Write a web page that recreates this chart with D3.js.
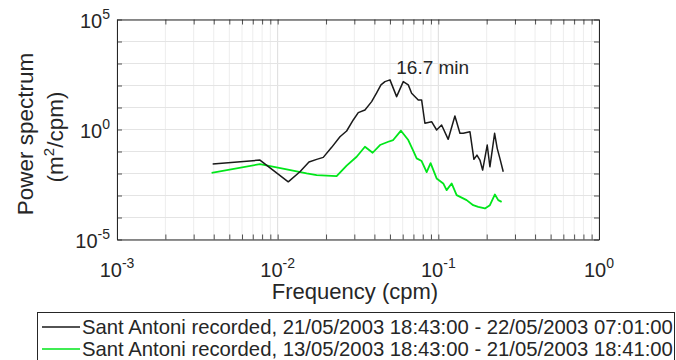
<!DOCTYPE html>
<html><head><meta charset="utf-8">
<script src="https://cdn.jsdelivr.net/npm/d3@7"></script>
<style>
html,body{margin:0;padding:0;background:#fff;}
text{font-family:"Liberation Sans",Arial,sans-serif;fill:#262626;}
</style></head>
<body>
<svg id="chart" width="676" height="360"></svg>
<script>
// ---- data ----
const blackFreq = [0.00394,0.00776,0.01164,0.01376,0.01566,0.01749,0.01922,0.02168,0.02442,0.02687,0.02954,0.03174,0.03493,0.03845,0.0413,0.04394,0.04654,0.0500,0.0550,0.0605,0.0650,0.0682,0.0750,0.0787,0.0825,0.0908,0.0976,0.1048,0.1152,0.1268,0.1363,0.1429,0.1573,0.1665,0.1739,0.1815,0.1887,0.2015,0.2094,0.2240,0.2325,0.2416,0.2535];
const blackPower = [0.0268,0.0408,0.00419,0.01195,0.0331,0.0439,0.0541,0.1545,0.470,0.855,2.71,5.83,7.73,18.5,46.0,106.5,150.6,180,31.2,150.6,106.5,44.6,22.1,22.1,1.92,2.27,0.949,1.60,0.358,4.12,0.671,0.671,0.794,0.0439,0.0689,0.0408,0.01428,0.197,0.0202,0.671,0.139,0.0488,0.01195];
const greenFreq = [0.00388,0.00776,0.01138,0.01515,0.01749,0.02328,0.02687,0.03102,0.03493,0.03900,0.04334,0.04878,0.05237,0.05853,0.0650,0.0695,0.0733,0.0787,0.0846,0.0895,0.0976,0.1073,0.1126,0.1210,0.1300,0.1500,0.1648,0.1771,0.1950,0.2094,0.2250,0.2360,0.2477];
const greenPower = [0.01076,0.0268,0.01538,0.0101,0.00846,0.00762,0.0229,0.0577,0.1646,0.0877,0.197,0.278,0.332,0.882,0.332,0.1165,0.0488,0.0367,0.01158,0.0298,0.00598,0.00354,0.00175,0.00354,0.00104,0.000614,0.000363,0.000304,0.000257,0.000363,0.001117,0.000614,0.000514];
const xTickExponents = [-3,-2,-1,0];
const yTickExponents = [-5,0,5];
const yDecades = [-5,-4,-3,-2,-1,0,1,2,3,4,5];
const seriesNames = ["Sant Antoni recorded, 21/05/2003 18:43:00 - 22/05/2003 07:01:00",
                     "Sant Antoni recorded, 13/05/2003 18:43:00 - 21/05/2003 18:41:00"];
const seriesColors = ["#1a1a1a","#00e61a"];
const annotation = {text:"16.7 min", freq:0.06, power:1e3};

// ---- layout ----
const L=117, R=599, T=19.5, B=239.5;
const svg = d3.select("#chart");
const x = d3.scaleLog().domain([1e-3,1]).range([L,R]);
const y = d3.scaleLog().domain([1e-5,1e5]).range([B,T]);

const xMinor = [];
for (let e=-3;e<0;e++) for (let k=1;k<=9;k++) xMinor.push(k*Math.pow(10,e));
xMinor.push(1);
const yMajor = yDecades.map(e=>Math.pow(10,e));

// grid
const g = svg.append("g");
g.selectAll(".vg").data(xMinor).join("line")
  .attr("x1",d=>x(d)).attr("x2",d=>x(d)).attr("y1",T).attr("y2",B)
  .attr("stroke",d=>Math.abs(Math.log10(d)-Math.round(Math.log10(d)))<1e-9?"#dcdcdc":"#ededed")
  .attr("stroke-width",1);
g.selectAll(".hg").data(yMajor).join("line")
  .attr("x1",L).attr("x2",R).attr("y1",d=>y(d)).attr("y2",d=>y(d))
  .attr("stroke","#e4e4e4").attr("stroke-width",1);

// axes with inward ticks
const tk = 5;
svg.append("g").attr("transform",`translate(0,${B})`)
  .call(d3.axisBottom(x).tickValues(xMinor).tickFormat("").tickSize(-tk).tickSizeOuter(0));
svg.append("g").attr("transform",`translate(0,${T})`)
  .call(d3.axisTop(x).tickValues(xMinor).tickFormat("").tickSize(-tk).tickSizeOuter(0));
svg.append("g").attr("transform",`translate(${L},0)`)
  .call(d3.axisLeft(y).tickValues(yMajor).tickFormat("").tickSize(-tk).tickSizeOuter(0));
svg.append("g").attr("transform",`translate(${R},0)`)
  .call(d3.axisRight(y).tickValues(yMajor).tickFormat("").tickSize(-tk).tickSizeOuter(0));
svg.selectAll(".domain").attr("stroke","#262626").attr("stroke-width",1);
svg.selectAll(".tick line").attr("stroke","#262626").attr("stroke-width",0.8);

// tick labels
xTickExponents.forEach(e=>{
  const t = svg.append("text").attr("x",x(Math.pow(10,e))).attr("y",B+37)
    .attr("text-anchor","middle").style("font-size","20px");
  t.append("tspan").text("10");
  t.append("tspan").attr("dy",-9).style("font-size","14px").text(String(e));
});
yTickExponents.forEach(e=>{
  const t = svg.append("text").attr("x",110).attr("y",y(Math.pow(10,e))+8)
    .attr("text-anchor","end").style("font-size","20px");
  t.append("tspan").text("10");
  t.append("tspan").attr("dy",-9).style("font-size","14px").text(String(e));
});

// axis titles
svg.append("text").attr("x",(L+R)/2-3).attr("y",299).attr("text-anchor","middle")
  .style("font-size","22px").text("Frequency (cpm)");
const yl = svg.append("text").attr("transform","translate(33,134) rotate(-90)")
  .attr("text-anchor","middle").style("font-size","22.5px");
yl.append("tspan").attr("x",0).attr("y",0).text("Power spectrum");
const yl2 = svg.append("text").attr("transform","translate(63,137) rotate(-90)")
  .attr("text-anchor","middle").style("font-size","22.5px");
yl2.append("tspan").text("(m");
yl2.append("tspan").attr("dy",-9).style("font-size","15px").text("2");
yl2.append("tspan").attr("dy",9).text("/cpm)");

// lines
const line = d3.line().x(d=>x(d[0])).y(d=>y(d[1]));
const blackData = blackFreq.map((f,i)=>[f,blackPower[i]]);
const greenData = greenFreq.map((f,i)=>[f,greenPower[i]]);
svg.append("path").datum(greenData).attr("d",line).attr("fill","none")
  .attr("stroke",seriesColors[1]).attr("stroke-width",1.8).attr("stroke-linejoin","round");
svg.append("path").datum(blackData).attr("d",line).attr("fill","none")
  .attr("stroke",seriesColors[0]).attr("stroke-width",1.5).attr("stroke-linejoin","round");

// annotation
svg.append("text").attr("x",x(annotation.freq)+30).attr("y",y(annotation.power)+10)
  .attr("text-anchor","middle").style("font-size","19px").text(annotation.text);

// legend
const lg = svg.append("g");
lg.append("rect").attr("x",37.5).attr("y",312.5).attr("width",637).attr("height",60)
  .attr("fill","#fff").attr("stroke","#262626").attr("stroke-width",1);
seriesNames.forEach((n,i)=>{
  const cy = 327 + i*22;
  lg.append("line").attr("x1",42).attr("x2",80).attr("y1",cy).attr("y2",cy)
    .attr("stroke",seriesColors[i]).attr("stroke-width",1.4);
  lg.append("text").attr("x",82).attr("y",cy+7).style("font-size","20.3px").text(n);
});
</script>
</body></html>
